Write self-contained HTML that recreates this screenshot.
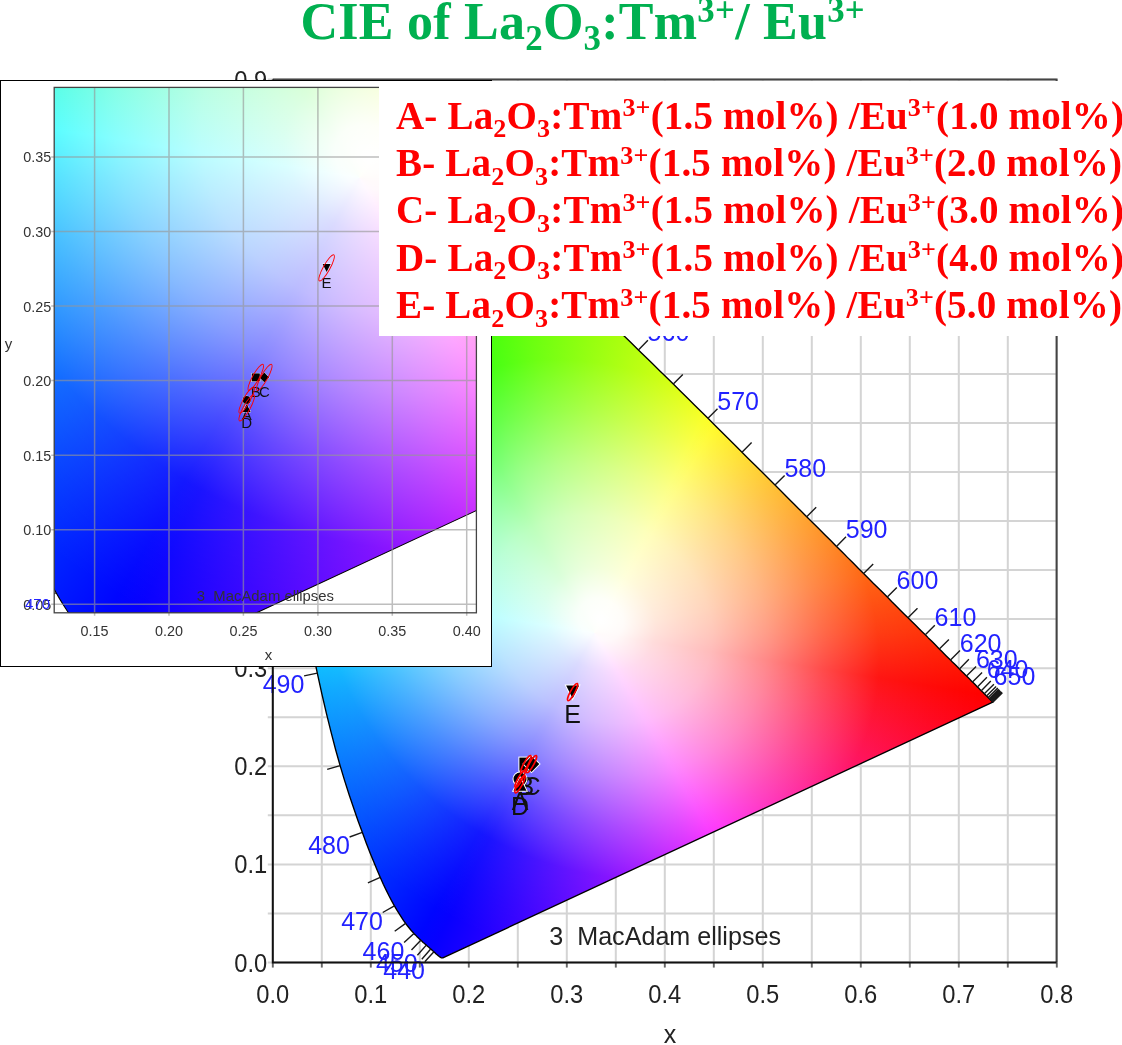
<!DOCTYPE html>
<html><head><meta charset="utf-8"><title>CIE of La2O3:Tm3+/Eu3+</title>
<style>
html,body{margin:0;padding:0;background:#fff}
body{width:1122px;height:1045px;position:relative;overflow:hidden}
.ly{position:absolute;left:0;top:0;box-sizing:content-box}
.t{position:absolute;left:300.5px;top:-8.4px;font:bold 52px/60px 'Liberation Serif',serif;color:#00b050;white-space:nowrap;letter-spacing:0.25px}
.lg{position:absolute;left:396px;top:91.5px;font:bold 39px/47.35px 'Liberation Serif',serif;color:#f00;white-space:nowrap;letter-spacing:0.18px}
.ll{height:47.35px}
sub,sup{font-size:67%;line-height:0;position:relative;vertical-align:baseline}
sub{top:0.34em}
sup{top:-0.47em}
</style></head><body>
<svg width="1122" height="1045" viewBox="0 0 1122 1045" class="ly">
<path d="M272.8 79.6V967.5M321.8 79.6V967.5M370.8 79.6V967.5M419.8 79.6V967.5M468.8 79.6V967.5M517.8 79.6V967.5M566.8 79.6V967.5M615.8 79.6V967.5M664.8 79.6V967.5M713.8 79.6V967.5M762.8 79.6V967.5M811.8 79.6V967.5M860.8 79.6V967.5M909.8 79.6V967.5M958.8 79.6V967.5M1007.8 79.6V967.5M1056.8 79.6V967.5M267.8 962.5H1056.6M267.8 913.5H1056.6M267.8 864.4H1056.6M267.8 815.3H1056.6M267.8 766.3H1056.6M267.8 717.2H1056.6M267.8 668.2H1056.6M267.8 619.1H1056.6M267.8 570.1H1056.6M267.8 521H1056.6M267.8 472H1056.6M267.8 422.9H1056.6M267.8 373.9H1056.6M267.8 324.9H1056.6M267.8 275.8H1056.6M267.8 226.8H1056.6M267.8 177.7H1056.6M267.8 128.6H1056.6M267.8 79.6H1056.6" stroke="#d4d4d4" stroke-width="2" fill="none"/>
</svg>
<div class="ly" style="width:1122px;height:1045px;overflow:hidden;clip-path:path('M443.4 957.6 443.4 957.6 443.4 957.6 443.4 957.6 443.4 957.6 443.3 957.6 443.3 957.6 443.2 957.6 443.2 957.7 443.2 957.7 443.1 957.7 443.1 957.7 443.1 957.7 443 957.7 443 957.7 442.9 957.7 442.9 957.7 442.8 957.7 442.8 957.8 442.7 957.8 442.6 957.8 442.6 957.8 442.5 957.8 442.5 957.8 442.4 957.8 442.3 957.8 442.3 957.8 442.2 957.8 442.1 957.8 442 957.8 441.9 957.8 441.9 957.8 441.8 957.8 441.7 957.8 441.6 957.8 441.5 957.8 441.3 957.8 441.2 957.7 441.1 957.7 440.9 957.6 440.8 957.5 440.6 957.4 440.4 957.3 440.2 957.1 439.9 957 439.7 956.8 439.4 956.6 439.2 956.4 438.9 956.2 438.6 956 438.3 955.7 438 955.4 437.6 955.1 437.2 954.8 436.8 954.4 436.4 954.1 435.9 953.7 435.4 953.2 435 952.8 434.4 952.3 433.9 951.8 433.3 951.3 432.7 950.8 432.1 950.2 431.4 949.6 430.7 949 429.9 948.3 429.1 947.5 428.2 946.8 427.2 946 426.3 945.1 425.3 944.3 424.2 943.3 423.1 942.4 422 941.3 420.8 940.2 419.5 939 418.2 937.7 416.8 936.4 415.4 934.9 413.9 933.4 412.4 931.7 410.8 930 409.2 928 407.4 925.8 405.6 923.4 403.6 920.6 401.5 917.4 399.3 913.9 396.9 910.1 394.4 905.8 391.8 901.1 389.1 896 386.3 890.4 383.3 884.2 380.2 877.3 377 869.8 373.6 861.6 370 852.7 366.2 842.9 362.3 832.3 358.1 820.9 353.8 808.5 349.3 795.2 344.7 780.9 340.1 765.6 335.5 749.2 331 731.8 326.4 713.3 321.8 693.7 317.3 673.1 312.8 651.5 308.3 629 304 605.8 299.8 581.9 295.8 557.6 292.2 533 288.8 508.2 285.8 483.4 283.1 458.7 280.8 434.3 279 410.3 277.7 386.9 276.8 363.9 276.4 341.7 276.6 320.1 277.4 299.4 278.7 279.6 280.7 260.7 283.2 243 286.4 226.6 290.2 211.4 294.6 197.7 299.6 185.5 305 174.9 310.9 165.9 317.2 158.6 323.9 153 330.9 148.8 338.2 146 345.6 144.5 353.2 144.3 361 145 368.8 146.7 376.7 149 384.7 152 392.7 155.4 400.7 159.1 408.7 163.2 416.6 167.5 424.4 171.9 432.1 176.5 439.7 181.1 447.1 185.9 454.5 190.8 461.8 195.8 469.1 200.9 476.3 206.1 483.5 211.5 490.7 216.9 497.8 222.5 504.9 228.2 512 234 519.1 239.9 526.2 245.9 533.3 252 540.3 258.1 547.4 264.3 554.4 270.6 561.4 276.9 568.4 283.4 575.4 289.8 582.4 296.3 589.3 302.9 596.3 309.5 603.4 316.1 610.4 322.8 617.4 329.5 624.4 336.3 631.4 343.1 638.4 349.9 645.4 356.7 652.4 363.5 659.4 370.4 666.4 377.2 673.3 384.1 680.3 391 687.2 397.8 694.2 404.7 701.1 411.5 708 418.3 714.9 425.2 721.7 432 728.5 438.7 735.3 445.5 742 452.2 748.7 458.9 755.4 465.5 762 472.1 768.5 478.6 775 485.1 781.5 491.6 787.9 498 794.2 504.3 800.5 510.6 806.7 516.7 812.8 522.8 818.9 528.8 824.8 534.8 830.7 540.6 836.5 546.4 842.2 552 847.7 557.6 853.2 563.1 858.5 568.4 863.6 573.5 868.6 578.5 873.5 583.4 878.2 588 882.8 592.6 887.3 597.1 891.6 601.5 895.9 605.7 900.1 609.9 904.1 613.9 908 617.8 911.8 621.5 915.4 625 918.8 628.4 922.1 631.7 925.3 634.8 928.3 637.9 931.3 640.8 934.1 643.6 936.7 646.3 939.3 648.9 941.7 651.3 944.1 653.7 946.3 655.9 948.4 658 950.5 660.1 952.4 662 954.3 663.8 956.1 665.6 957.8 667.3 959.4 668.9 960.9 670.4 962.4 671.9 963.8 673.3 965.2 674.7 966.5 676 967.8 677.3 969.1 678.6 970.3 679.8 971.4 680.9 972.5 682 973.6 683.1 974.6 684.1 975.6 685.1 976.5 686 977.4 686.9 978.3 687.8 979.1 688.6 979.9 689.4 980.6 690.1 981.3 690.8 982 691.4 982.6 692 983.2 692.6 983.8 693.2 984.3 693.7 984.8 694.2 985.3 694.7 985.7 695.1 986.1 695.6 986.5 696 986.9 696.3 987.3 696.7 987.6 697 987.9 697.3 988.2 697.6 988.5 697.9 988.7 698.1 988.9 698.3 989.1 698.5 989.3 698.7 989.5 698.9 989.7 699.1 989.8 699.3 990 699.4 990.2 699.6 990.3 699.7 990.4 699.9 990.6 700 990.7 700.1 990.8 700.3 991 700.4 991.1 700.6 991.3 700.7 991.4 700.8 991.5 701 991.7 701.1 991.8 701.2 991.9 701.3 992 701.5 992.1 701.6 992.2 701.6 992.3 701.7 992.4 701.8 992.5 701.9 992.5 701.9 992.6 702 992.6 702 992.6 702.1 992.7 702.1 992.7 702.1 992.7 702.2 992.8 702.2 992.8 702.2 992.8 702.2 992.8 702.2Z')"><div style="position:absolute;left:0;top:0;width:100%;height:100%;background:conic-gradient(from 0deg at 594.4px 632.9px,#92ff00 0deg,#f8ff00 27deg,#fffa00 30deg,#ffb000 51deg,#ff5a00 78deg,#ff2c00 90deg,#ff0200 99deg,#ff00b0 135deg,#ff00f4 147deg,#f800ff 150deg,#d500ff 156deg,#9d00ff 168deg,#0700ff 207deg,#0005ff 210deg,#004fff 231deg,#00a5ff 258deg,#00d3ff 270deg,#00fdff 279deg,#00ff4f 315deg,#00ff0b 327deg,#07ff00 330deg,#2aff00 336deg,#62ff00 348deg,#92ff00 360deg)"></div><div style="position:absolute;left:177.7px;top:196.7px;width:844.9px;height:844.9px;transform:rotate(-56.9deg);background:radial-gradient(ellipse 352.8px 420.4px at 50% 50%,rgba(255,255,255,1.000) 0.0%,rgba(255,255,255,0.975) 5.6%,rgba(255,255,255,0.858) 13.9%,rgba(255,255,255,0.735) 27.8%,rgba(255,255,255,0.531) 41.7%,rgba(255,255,255,0.289) 55.6%,rgba(255,255,255,0.078) 69.4%,rgba(255,255,255,0.030) 83.3%,rgba(255,255,255,0.000) 94.4%)"></div></div>
<svg width="1122" height="1045" viewBox="0 0 1122 1045" class="ly">
<path d="M443.4 957.6 443.4 957.6 443.4 957.6 443.4 957.6 443.4 957.6 443.3 957.6 443.3 957.6 443.2 957.6 443.2 957.7 443.2 957.7 443.1 957.7 443.1 957.7 443.1 957.7 443 957.7 443 957.7 442.9 957.7 442.9 957.7 442.8 957.7 442.8 957.8 442.7 957.8 442.6 957.8 442.6 957.8 442.5 957.8 442.5 957.8 442.4 957.8 442.3 957.8 442.3 957.8 442.2 957.8 442.1 957.8 442 957.8 441.9 957.8 441.9 957.8 441.8 957.8 441.7 957.8 441.6 957.8 441.5 957.8 441.3 957.8 441.2 957.7 441.1 957.7 440.9 957.6 440.8 957.5 440.6 957.4 440.4 957.3 440.2 957.1 439.9 957 439.7 956.8 439.4 956.6 439.2 956.4 438.9 956.2 438.6 956 438.3 955.7 438 955.4 437.6 955.1 437.2 954.8 436.8 954.4 436.4 954.1 435.9 953.7 435.4 953.2 435 952.8 434.4 952.3 433.9 951.8 433.3 951.3 432.7 950.8 432.1 950.2 431.4 949.6 430.7 949 429.9 948.3 429.1 947.5 428.2 946.8 427.2 946 426.3 945.1 425.3 944.3 424.2 943.3 423.1 942.4 422 941.3 420.8 940.2 419.5 939 418.2 937.7 416.8 936.4 415.4 934.9 413.9 933.4 412.4 931.7 410.8 930 409.2 928 407.4 925.8 405.6 923.4 403.6 920.6 401.5 917.4 399.3 913.9 396.9 910.1 394.4 905.8 391.8 901.1 389.1 896 386.3 890.4 383.3 884.2 380.2 877.3 377 869.8 373.6 861.6 370 852.7 366.2 842.9 362.3 832.3 358.1 820.9 353.8 808.5 349.3 795.2 344.7 780.9 340.1 765.6 335.5 749.2 331 731.8 326.4 713.3 321.8 693.7 317.3 673.1 312.8 651.5 308.3 629 304 605.8 299.8 581.9 295.8 557.6 292.2 533 288.8 508.2 285.8 483.4 283.1 458.7 280.8 434.3 279 410.3 277.7 386.9 276.8 363.9 276.4 341.7 276.6 320.1 277.4 299.4 278.7 279.6 280.7 260.7 283.2 243 286.4 226.6 290.2 211.4 294.6 197.7 299.6 185.5 305 174.9 310.9 165.9 317.2 158.6 323.9 153 330.9 148.8 338.2 146 345.6 144.5 353.2 144.3 361 145 368.8 146.7 376.7 149 384.7 152 392.7 155.4 400.7 159.1 408.7 163.2 416.6 167.5 424.4 171.9 432.1 176.5 439.7 181.1 447.1 185.9 454.5 190.8 461.8 195.8 469.1 200.9 476.3 206.1 483.5 211.5 490.7 216.9 497.8 222.5 504.9 228.2 512 234 519.1 239.9 526.2 245.9 533.3 252 540.3 258.1 547.4 264.3 554.4 270.6 561.4 276.9 568.4 283.4 575.4 289.8 582.4 296.3 589.3 302.9 596.3 309.5 603.4 316.1 610.4 322.8 617.4 329.5 624.4 336.3 631.4 343.1 638.4 349.9 645.4 356.7 652.4 363.5 659.4 370.4 666.4 377.2 673.3 384.1 680.3 391 687.2 397.8 694.2 404.7 701.1 411.5 708 418.3 714.9 425.2 721.7 432 728.5 438.7 735.3 445.5 742 452.2 748.7 458.9 755.4 465.5 762 472.1 768.5 478.6 775 485.1 781.5 491.6 787.9 498 794.2 504.3 800.5 510.6 806.7 516.7 812.8 522.8 818.9 528.8 824.8 534.8 830.7 540.6 836.5 546.4 842.2 552 847.7 557.6 853.2 563.1 858.5 568.4 863.6 573.5 868.6 578.5 873.5 583.4 878.2 588 882.8 592.6 887.3 597.1 891.6 601.5 895.9 605.7 900.1 609.9 904.1 613.9 908 617.8 911.8 621.5 915.4 625 918.8 628.4 922.1 631.7 925.3 634.8 928.3 637.9 931.3 640.8 934.1 643.6 936.7 646.3 939.3 648.9 941.7 651.3 944.1 653.7 946.3 655.9 948.4 658 950.5 660.1 952.4 662 954.3 663.8 956.1 665.6 957.8 667.3 959.4 668.9 960.9 670.4 962.4 671.9 963.8 673.3 965.2 674.7 966.5 676 967.8 677.3 969.1 678.6 970.3 679.8 971.4 680.9 972.5 682 973.6 683.1 974.6 684.1 975.6 685.1 976.5 686 977.4 686.9 978.3 687.8 979.1 688.6 979.9 689.4 980.6 690.1 981.3 690.8 982 691.4 982.6 692 983.2 692.6 983.8 693.2 984.3 693.7 984.8 694.2 985.3 694.7 985.7 695.1 986.1 695.6 986.5 696 986.9 696.3 987.3 696.7 987.6 697 987.9 697.3 988.2 697.6 988.5 697.9 988.7 698.1 988.9 698.3 989.1 698.5 989.3 698.7 989.5 698.9 989.7 699.1 989.8 699.3 990 699.4 990.2 699.6 990.3 699.7 990.4 699.9 990.6 700 990.7 700.1 990.8 700.3 991 700.4 991.1 700.6 991.3 700.7 991.4 700.8 991.5 701 991.7 701.1 991.8 701.2 991.9 701.3 992 701.5 992.1 701.6 992.2 701.6 992.3 701.7 992.4 701.8 992.5 701.9 992.5 701.9 992.6 702 992.6 702 992.6 702.1 992.7 702.1 992.7 702.1 992.7 702.2 992.8 702.2 992.8 702.2 992.8 702.2 992.8 702.2Z" fill="none" stroke="#000" stroke-width="1.35" stroke-linejoin="round"/>
<path d="M433.9 951.8L424.8 961.8M430.7 949L421.8 959.2M426.3 945.1L417.4 955.3M420.8 940.2L411.5 950.1M413.9 933.4L404.1 942.6M405.6 923.4L394.7 931.3M394.4 905.8L382.7 912.5M380.2 877.3L367.9 882.8M362.3 832.3L349.6 837M340.1 765.6L327.2 769.4M317.3 673.1L304.1 675.9M295.8 557.6L282.5 559.7M280.8 434.3L267.4 435.5M276.6 320.1L263.1 319.8M286.4 226.6L273.2 223.6M310.9 165.9L300.1 157.8M345.6 144.5L344.1 131.1M384.7 152L389.7 139.5M424.4 171.9L431.2 160.2M461.8 195.8L469.5 184.7M497.8 222.5L506.2 211.9M533.3 252L542.1 241.8M568.4 283.4L577.5 273.4M603.4 316.1L612.7 306.3M638.4 349.9L647.9 340.2M673.3 384.1L682.8 374.5M708 418.3L717.5 408.7M742 452.2L751.6 442.6M775 485.1L784.6 475.6M806.7 516.7L816.2 507.2M836.5 546.4L846 536.8M863.6 573.5L873.2 564M887.3 597.1L896.8 587.5M908 617.8L917.5 608.2M925.3 634.8L934.8 625.3M939.3 648.9L948.9 639.4M950.5 660.1L960 650.5M959.4 668.9L968.9 659.3M966.5 676L976.1 666.5M972.5 682L982.1 672.5M977.4 686.9L986.9 677.3M981.3 690.8L990.8 681.1M984.3 693.7L993.9 684.2M986.5 696L996.1 686.4M988.2 697.6L997.8 688.1M989.3 698.7L998.8 689.2M990.2 699.6L999.7 690.1M990.8 700.3L1000.4 690.7M991.5 701L1001.1 691.4M992.1 701.6L1001.7 692M992.5 701.9L1002.1 692.4M992.7 702.1L1002.3 692.6M992.8 702.2L1002.4 692.7" stroke="#1a1a1a" stroke-width="1.4" fill="none"/>
<g font-family="'Liberation Sans', sans-serif" font-size="25" fill="#2222ff"><text x="425" y="978.8" text-anchor="end">440</text>
<text x="417.6" y="972.3" text-anchor="end">450</text>
<text x="404.3" y="959.6" text-anchor="end">460</text>
<text x="382.9" y="929.5" text-anchor="end">470</text>
<text x="349.9" y="854.1" text-anchor="end">480</text>
<text x="304.4" y="693.1" text-anchor="end">490</text>
<text x="267.7" y="452.6" text-anchor="end">500</text>
<text x="273.5" y="224.5" text-anchor="end">510</text>
<text x="344.1" y="132.2" text-anchor="end">520</text>
<text x="431" y="161.3" text-anchor="start">530</text>
<text x="506" y="213" text-anchor="start">540</text>
<text x="577.3" y="274.4" text-anchor="start">550</text>
<text x="647.6" y="341.2" text-anchor="start">560</text>
<text x="717.3" y="409.8" text-anchor="start">570</text>
<text x="784.4" y="476.6" text-anchor="start">580</text>
<text x="845.8" y="537.8" text-anchor="start">590</text>
<text x="896.6" y="588.5" text-anchor="start">600</text>
<text x="934.6" y="626.3" text-anchor="start">610</text>
<text x="959.8" y="651.5" text-anchor="start">620</text>
<text x="975.9" y="667.5" text-anchor="start">630</text>
<text x="986.7" y="678.3" text-anchor="start">640</text>
<text x="993.6" y="685.2" text-anchor="start">650</text></g>
<path d="M272.8 962.5v5M321.8 962.5v5M370.8 962.5v5M419.8 962.5v5M468.8 962.5v5M517.8 962.5v5M566.8 962.5v5M615.8 962.5v5M664.8 962.5v5M713.8 962.5v5M762.8 962.5v5M811.8 962.5v5M860.8 962.5v5M909.8 962.5v5M958.8 962.5v5M1007.8 962.5v5M1056.8 962.5v5" stroke="#666" stroke-width="1.8" fill="none"/>
<path d="M272.8 79.6H1056.6V962.5" stroke="#444" stroke-width="2" fill="none"/>
<path d="M272.8 79.6V962.5H1056.6" stroke="#111" stroke-width="2" fill="none"/>
<g font-family="'Liberation Sans', sans-serif" font-size="25" fill="#222"><text x="272.8" y="1003.3" text-anchor="middle" textLength="33" lengthAdjust="spacingAndGlyphs">0.0</text>
<text x="370.8" y="1003.3" text-anchor="middle" textLength="33" lengthAdjust="spacingAndGlyphs">0.1</text>
<text x="468.8" y="1003.3" text-anchor="middle" textLength="33" lengthAdjust="spacingAndGlyphs">0.2</text>
<text x="566.8" y="1003.3" text-anchor="middle" textLength="33" lengthAdjust="spacingAndGlyphs">0.3</text>
<text x="664.8" y="1003.3" text-anchor="middle" textLength="33" lengthAdjust="spacingAndGlyphs">0.4</text>
<text x="762.8" y="1003.3" text-anchor="middle" textLength="33" lengthAdjust="spacingAndGlyphs">0.5</text>
<text x="860.8" y="1003.3" text-anchor="middle" textLength="33" lengthAdjust="spacingAndGlyphs">0.6</text>
<text x="958.8" y="1003.3" text-anchor="middle" textLength="33" lengthAdjust="spacingAndGlyphs">0.7</text>
<text x="1056.8" y="1003.3" text-anchor="middle" textLength="33" lengthAdjust="spacingAndGlyphs">0.8</text>
<text x="267.3" y="971.5" text-anchor="end" textLength="33" lengthAdjust="spacingAndGlyphs">0.0</text>
<text x="267.3" y="873.4" text-anchor="end" textLength="33" lengthAdjust="spacingAndGlyphs">0.1</text>
<text x="267.3" y="775.3" text-anchor="end" textLength="33" lengthAdjust="spacingAndGlyphs">0.2</text>
<text x="267.3" y="677.2" text-anchor="end" textLength="33" lengthAdjust="spacingAndGlyphs">0.3</text>
<text x="267.3" y="579.1" text-anchor="end" textLength="33" lengthAdjust="spacingAndGlyphs">0.4</text>
<text x="267.3" y="481" text-anchor="end" textLength="33" lengthAdjust="spacingAndGlyphs">0.5</text>
<text x="267.3" y="382.9" text-anchor="end" textLength="33" lengthAdjust="spacingAndGlyphs">0.6</text>
<text x="267.3" y="284.8" text-anchor="end" textLength="33" lengthAdjust="spacingAndGlyphs">0.7</text>
<text x="267.3" y="186.7" text-anchor="end" textLength="33" lengthAdjust="spacingAndGlyphs">0.8</text>
<text x="267.3" y="88.6" text-anchor="end" textLength="33" lengthAdjust="spacingAndGlyphs">0.9</text>
<text x="670" y="1043" text-anchor="middle">x</text>
<text x="549.3" y="945.2" textLength="231.7" lengthAdjust="spacingAndGlyphs" xml:space="preserve">3  MacAdam ellipses</text></g>
<g font-family="'Liberation Sans', sans-serif" font-size="25" fill="#111" text-anchor="middle">
<text x="520" y="809.9">A</text>
<text x="525.9" y="794.9">B</text>
<text x="531.5" y="794.9">C</text>
<text x="520" y="815.1">D</text>
<text x="572.6" y="722.9">E</text>
</g>
<circle cx="520" cy="779.1" r="6.5" fill="#000" stroke="#fff" stroke-width="2" paint-order="stroke"/>
<rect x="519.4" y="757.6" width="13" height="13" fill="#000" stroke="#fff" stroke-width="2" paint-order="stroke"/>
<path d="M531.5 756.3L539.3 764.1L531.5 771.9L523.7 764.1Z" fill="#000" stroke="#fff" stroke-width="2" paint-order="stroke"/>
<path d="M520 777.8L526.5 790.8L513.5 790.8Z" fill="#000" stroke="#fff" stroke-width="2" paint-order="stroke"/>
<path d="M572.6 698.6L579.1 685.6L566.1 685.6Z" fill="#000" stroke="#fff" stroke-width="2" paint-order="stroke"/>
<ellipse cx="520" cy="779.1" rx="9.8" ry="2.2" transform="rotate(-61 520 779.1)" fill="none" stroke="#f00" stroke-width="1.6"/>
<ellipse cx="525.9" cy="764.1" rx="9.8" ry="2.2" transform="rotate(-61 525.9 764.1)" fill="none" stroke="#f00" stroke-width="1.6"/>
<ellipse cx="531.5" cy="764.1" rx="9.8" ry="2.2" transform="rotate(-61 531.5 764.1)" fill="none" stroke="#f00" stroke-width="1.6"/>
<ellipse cx="520" cy="784.3" rx="9.8" ry="2.2" transform="rotate(-61 520 784.3)" fill="none" stroke="#f00" stroke-width="1.6"/>
<ellipse cx="572.6" cy="692.1" rx="9.8" ry="2.2" transform="rotate(-61 572.6 692.1)" fill="none" stroke="#f00" stroke-width="1.6"/>
</svg>
<div class="ly" style="left:0;top:80px;width:490px;height:585px;background:#fff;border:1.6px solid #000"></div>
<div class="ly" style="left:54.2px;top:87.4px;width:422.2px;height:525.4px;overflow:hidden"><div style="position:absolute;left:0;top:0;width:422.2px;height:525.4px;overflow:hidden;clip-path:path('M76.3 584 76.3 584 76.2 583.9 76.2 583.9 76.2 584 76.1 584 76.1 584 76 584.1 75.9 584.1 75.9 584.1 75.8 584.1 75.8 584.1 75.7 584.1 75.7 584.1 75.6 584.1 75.5 584.1 75.4 584.2 75.4 584.2 75.3 584.2 75.2 584.3 75.1 584.3 75 584.3 74.9 584.3 74.8 584.3 74.7 584.3 74.6 584.3 74.5 584.3 74.4 584.3 74.3 584.3 74.2 584.3 74 584.3 73.9 584.3 73.8 584.3 73.6 584.3 73.5 584.3 73.3 584.3 73.1 584.3 72.9 584.2 72.7 584.1 72.5 584 72.3 583.8 72 583.7 71.7 583.5 71.3 583.3 71 583.1 70.6 582.8 70.2 582.5 69.9 582.2 69.4 581.9 69 581.6 68.5 581.2 68 580.7 67.4 580.3 66.8 579.8 66.2 579.2 65.6 578.6 64.9 578 64.2 577.4 63.4 576.7 62.6 575.9 61.8 575.2 61 574.4 60.1 573.6 59.1 572.8 58 571.8 56.9 570.9 55.7 569.8 54.4 568.7 53.1 567.6 51.7 566.3 50.2 565.1 48.7 563.7 47.1 562.3 45.5 560.9 43.7 559.3 41.9 557.6 40 555.8 38 553.8 35.9 551.7 33.7 549.5 31.5 547.2 29.2 544.7 26.8 542 24.3 539 21.6 535.7 18.8 532 15.8 527.7 12.6 522.9 9.2 517.6 5.6 511.7 1.9 505.3 -2.1 498.2 -6.2 490.4 -10.5 481.8 -15 472.4 -19.7 462 -24.7 450.6 -29.8 438.1 -35.2 424.5 -40.9 409.7 -47 393.6 -53.3 376.2 -59.9 357.4 -66.7 337.2 -73.6 315.5 -80.6 292.2 -87.6 267.3 -94.5 240.8 -101.5 212.6 -108.4 182.9 -115.3 151.6 -122.2 118.8 -128.9 84.6 -135.5 49.3 -141.9 13 -147.9 -23.9 -153.5 -61.3 -158.6 -99 -163.2 -136.7 -167.2 -174.2 -170.7 -211.3 -173.4 -247.8 -175.5 -283.5 -176.8 -318.3 -177.3 -352.1 -177.1 -384.9 -175.9 -416.4 -173.8 -446.6 -170.9 -475.2 -167 -502.1 -162.2 -527.1 -156.4 -550.1 -149.7 -570.9 -142.2 -589.4 -133.9 -605.6 -125 -619.2 -115.4 -630.3 -105.2 -639 -94.6 -645.3 -83.6 -649.5 -72.3 -651.7 -60.7 -652.2 -49 -651 -37 -648.5 -25 -644.9 -12.9 -640.4 -0.7 -635.3 11.4 -629.5 23.5 -623.4 35.5 -616.9 47.4 -610.1 59.1 -603.2 70.6 -596.2 81.9 -588.9 93.1 -581.5 104.3 -573.9 115.3 -566.1 126.3 -558.2 137.2 -550 148 -541.7 158.9 -533.2 169.7 -524.6 180.5 -515.7 191.3 -506.8 202 -497.7 212.8 -488.5 223.5 -479.1 234.1 -469.7 244.8 -460.1 255.4 -450.5 266 -440.8 276.7 -431 287.3 -421.1 297.9 -411.1 308.5 -401.1 319.2 -391 329.8 -380.8 340.5 -370.6 351.2 -360.3 361.8 -350 372.5 -339.7 383.1 -329.3 393.7 -318.9 404.3 -308.5 414.9 -298.1 425.4 -287.6 436 -277.2 446.6 -266.8 457.1 -256.4 467.7 -246 478.1 -235.6 488.6 -225.2 499 -214.9 509.3 -204.6 519.6 -194.4 529.8 -184.2 540 -174 550.1 -163.9 560.1 -153.9 570.1 -144 579.9 -134.1 589.7 -124.3 599.5 -114.6 609.1 -104.9 618.6 -95.4 628 -86.1 637.3 -76.8 646.5 -67.7 655.6 -58.7 664.5 -49.8 673.3 -41 681.9 -32.4 690.4 -23.9 698.6 -15.6 706.7 -7.6 714.5 0.3 722.1 7.8 729.4 15.2 736.6 22.3 743.6 29.3 750.4 36.1 757 42.7 763.5 49.2 769.9 55.5 776 61.6 781.9 67.5 787.6 73.1 793 78.5 798.3 83.7 803.3 88.7 808.1 93.5 812.7 98.1 817.2 102.5 821.4 106.8 825.5 110.9 829.4 114.8 833.1 118.5 836.7 122.1 840 125.5 843.3 128.7 846.4 131.8 849.3 134.7 852.2 137.5 854.9 140.2 857.4 142.7 859.9 145.2 862.3 147.5 864.5 149.8 866.7 152 868.8 154.1 870.8 156.1 872.7 158 874.6 159.9 876.4 161.7 878.2 163.5 879.9 165.2 881.5 166.8 883 168.4 884.5 169.8 885.9 171.3 887.3 172.6 888.6 173.9 889.9 175.1 891.1 176.3 892.2 177.4 893.3 178.4 894.3 179.4 895.2 180.4 896.1 181.3 896.9 182.1 897.7 182.9 898.5 183.7 899.2 184.4 899.9 185.1 900.5 185.7 901.1 186.3 901.7 186.9 902.3 187.5 902.8 188 903.2 188.5 903.7 188.9 904.1 189.3 904.4 189.6 904.7 189.9 905 190.2 905.3 190.5 905.6 190.8 905.9 191.1 906.1 191.4 906.4 191.6 906.6 191.9 906.9 192.1 907.1 192.3 907.3 192.5 907.5 192.7 907.7 192.9 907.9 193.1 908.1 193.3 908.3 193.5 908.5 193.7 908.7 193.9 908.9 194.1 909.1 194.3 909.3 194.5 909.5 194.7 909.6 194.8 909.8 195 909.9 195.1 910 195.2 910.1 195.3 910.2 195.4 910.3 195.5 910.4 195.6 910.4 195.6 910.5 195.7 910.5 195.7 910.6 195.8 910.6 195.8 910.6 195.8 910.6 195.9 910.7 195.9Z')"><div style="position:absolute;left:0;top:0;width:100%;height:100%;background:conic-gradient(from 0deg at 305.5px 90.6px,#92ff00 0deg,#f8ff00 27deg,#fffa00 30deg,#ffb000 51deg,#ff5a00 78deg,#ff2c00 90deg,#ff0200 99deg,#ff00b0 135deg,#ff00e1 144deg,#ff00f3 147deg,#f800ff 150deg,#c600ff 159deg,#9d00ff 168deg,#0700ff 207deg,#0005ff 210deg,#004fff 231deg,#00a5ff 258deg,#00d3ff 270deg,#00fdff 279deg,#00ff4f 315deg,#00ff1e 324deg,#00ff0c 327deg,#07ff00 330deg,#39ff00 339deg,#62ff00 348deg,#92ff00 360deg)"></div><div style="position:absolute;left:-326.7px;top:-571.4px;width:1282.0px;height:1282.0px;transform:rotate(-56.9deg);background:radial-gradient(ellipse 535.8px 639.0px at 50% 50%,rgba(255,255,255,1.000) 0.0%,rgba(255,255,255,0.975) 5.6%,rgba(255,255,255,0.858) 13.9%,rgba(255,255,255,0.735) 27.8%,rgba(255,255,255,0.531) 41.7%,rgba(255,255,255,0.289) 55.6%,rgba(255,255,255,0.078) 69.4%,rgba(255,255,255,0.030) 83.3%,rgba(255,255,255,0.000) 94.4%)"></div></div></div>
<svg width="1122" height="1045" viewBox="0 0 1122 1045" class="ly">
<defs><clipPath id="ci0"><rect x="54.2" y="87.4" width="422.2" height="525.4"/></clipPath></defs>
<g clip-path="url(#ci0)">
<path d="M130.5 671.4 130.5 671.4 130.4 671.3 130.4 671.3 130.4 671.4 130.3 671.4 130.3 671.4 130.2 671.5 130.1 671.5 130.1 671.5 130 671.5 130 671.5 129.9 671.5 129.9 671.5 129.8 671.5 129.7 671.5 129.6 671.6 129.6 671.6 129.5 671.6 129.4 671.7 129.3 671.7 129.2 671.7 129.1 671.7 129 671.7 128.9 671.7 128.8 671.7 128.7 671.7 128.6 671.7 128.5 671.7 128.4 671.7 128.2 671.7 128.1 671.7 128 671.7 127.8 671.7 127.7 671.7 127.5 671.7 127.3 671.7 127.1 671.6 126.9 671.5 126.7 671.4 126.5 671.2 126.2 671.1 125.9 670.9 125.5 670.7 125.2 670.5 124.8 670.2 124.4 669.9 124.1 669.6 123.6 669.3 123.2 669 122.7 668.6 122.2 668.1 121.6 667.7 121 667.2 120.4 666.6 119.8 666 119.1 665.4 118.4 664.8 117.6 664.1 116.8 663.3 116 662.6 115.2 661.8 114.3 661 113.3 660.2 112.2 659.2 111.1 658.3 109.9 657.2 108.6 656.1 107.3 655 105.9 653.7 104.4 652.5 102.9 651.1 101.3 649.7 99.7 648.3 97.9 646.7 96.1 645 94.2 643.2 92.2 641.2 90.1 639.1 87.9 636.9 85.7 634.6 83.4 632.1 81 629.4 78.5 626.4 75.8 623.1 73 619.4 70 615.1 66.8 610.3 63.4 605 59.8 599.1 56.1 592.7 52.1 585.6 48 577.8 43.7 569.2 39.2 559.8 34.5 549.4 29.5 538 24.4 525.5 19 511.9 13.3 497.1 7.2 481 0.9 463.6 -5.7 444.8 -12.5 424.6 -19.4 402.9 -26.4 379.6 -33.4 354.7 -40.3 328.2 -47.3 300 -54.2 270.3 -61.1 239 -68 206.2 -74.7 172 -81.3 136.7 -87.7 100.4 -93.7 63.5 -99.3 26.1 -104.4 -11.6 -109 -49.3 -113 -86.8 -116.5 -123.9 -119.2 -160.4 -121.3 -196.1 -122.6 -230.9 -123.1 -264.7 -122.9 -297.5 -121.7 -329 -119.6 -359.2 -116.7 -387.8 -112.8 -414.7 -108 -439.7 -102.2 -462.7 -95.5 -483.5 -88 -502 -79.7 -518.2 -70.8 -531.8 -61.2 -542.9 -51 -551.6 -40.4 -557.9 -29.4 -562.1 -18.1 -564.3 -6.5 -564.8 5.2 -563.6 17.2 -561.1 29.2 -557.5 41.3 -553 53.5 -547.9 65.6 -542.1 77.7 -536 89.7 -529.5 101.6 -522.7 113.3 -515.8 124.8 -508.8 136.1 -501.5 147.3 -494.1 158.5 -486.5 169.5 -478.7 180.5 -470.8 191.4 -462.6 202.2 -454.3 213.1 -445.8 223.9 -437.2 234.7 -428.3 245.5 -419.4 256.2 -410.3 267 -401.1 277.7 -391.7 288.3 -382.3 299 -372.7 309.6 -363.1 320.2 -353.4 330.9 -343.6 341.5 -333.7 352.1 -323.7 362.7 -313.7 373.4 -303.6 384 -293.4 394.7 -283.2 405.4 -272.9 416 -262.6 426.7 -252.3 437.3 -241.9 447.9 -231.5 458.5 -221.1 469.1 -210.7 479.6 -200.2 490.2 -189.8 500.8 -179.4 511.3 -169 521.9 -158.6 532.3 -148.2 542.8 -137.8 553.2 -127.5 563.5 -117.2 573.8 -107 584 -96.8 594.2 -86.6 604.3 -76.5 614.3 -66.5 624.3 -56.6 634.1 -46.7 643.9 -36.9 653.7 -27.2 663.3 -17.5 672.8 -8 682.2 1.3 691.5 10.6 700.7 19.7 709.8 28.7 718.7 37.6 727.5 46.4 736.1 55 744.6 63.5 752.8 71.8 760.9 79.8 768.7 87.7 776.3 95.2 783.6 102.6 790.8 109.7 797.8 116.7 804.6 123.5 811.2 130.1 817.7 136.6 824.1 142.9 830.2 149 836.1 154.9 841.8 160.5 847.2 165.9 852.5 171.1 857.5 176.1 862.3 180.9 866.9 185.5 871.4 189.9 875.6 194.2 879.7 198.3 883.6 202.2 887.3 205.9 890.9 209.5 894.2 212.9 897.5 216.1 900.6 219.2 903.5 222.1 906.4 224.9 909.1 227.6 911.6 230.1 914.1 232.6 916.5 234.9 918.7 237.2 920.9 239.4 923 241.5 925 243.5 926.9 245.4 928.8 247.3 930.6 249.1 932.4 250.9 934.1 252.6 935.7 254.2 937.2 255.8 938.7 257.2 940.1 258.7 941.5 260 942.8 261.3 944.1 262.5 945.3 263.7 946.4 264.8 947.5 265.8 948.5 266.8 949.4 267.8 950.3 268.7 951.1 269.5 951.9 270.3 952.7 271.1 953.4 271.8 954.1 272.5 954.7 273.1 955.3 273.7 955.9 274.3 956.5 274.9 957 275.4 957.4 275.9 957.9 276.3 958.3 276.7 958.6 277 958.9 277.3 959.2 277.6 959.5 277.9 959.8 278.2 960.1 278.5 960.3 278.8 960.6 279 960.8 279.3 961.1 279.5 961.3 279.7 961.5 279.9 961.7 280.1 961.9 280.3 962.1 280.5 962.3 280.7 962.5 280.9 962.7 281.1 962.9 281.3 963.1 281.5 963.3 281.7 963.5 281.9 963.7 282.1 963.8 282.2 964 282.4 964.1 282.5 964.2 282.6 964.3 282.7 964.4 282.8 964.5 282.9 964.6 283 964.6 283 964.7 283.1 964.7 283.1 964.8 283.2 964.8 283.2 964.8 283.2 964.8 283.3 964.9 283.3Z" fill="none" stroke="#000" stroke-width="1.1"/>
<path d="M56.1 592.7L48.2 597.1M34.5 549.4L26.2 553.1" stroke="#1a1a1a" stroke-width="1.2" fill="none"/>
</g>
<path d="M94.6 87.4V615.8M169 87.4V615.8M243.4 87.4V615.8M317.9 87.4V615.8M392.3 87.4V615.8M466.7 87.4V615.8M51.2 604.3H476.4M51.2 529.7H476.4M51.2 455.2H476.4M51.2 380.6H476.4M51.2 306.1H476.4M51.2 231.5H476.4M51.2 157H476.4" stroke="#969696" stroke-opacity="0.62" stroke-width="1.5" fill="none"/>
<rect x="54.2" y="87.4" width="422.2" height="525.4" fill="none" stroke="#444" stroke-width="1.3"/>
<g font-family="'Liberation Sans', sans-serif" font-size="15" fill="#111" text-anchor="middle">
<text x="246.7" y="420">A</text>
<text x="255.8" y="397.4">B</text>
<text x="264.3" y="397.4">C</text>
<text x="246.7" y="427.9">D</text>
<text x="326.6" y="287.9">E</text>
</g>
<circle cx="246.7" cy="400" r="4" fill="#000" stroke="#fff" stroke-width="0.9" paint-order="stroke"/>
<rect x="251.8" y="373.4" width="8" height="8" fill="#000" stroke="#fff" stroke-width="0.9" paint-order="stroke"/>
<path d="M264.3 372.6L269.1 377.4L264.3 382.2L259.5 377.4Z" fill="#000" stroke="#fff" stroke-width="0.9" paint-order="stroke"/>
<path d="M246.7 403.9L250.7 411.9L242.7 411.9Z" fill="#000" stroke="#fff" stroke-width="0.9" paint-order="stroke"/>
<path d="M326.6 271.9L330.6 263.9L322.6 263.9Z" fill="#000" stroke="#fff" stroke-width="0.9" paint-order="stroke"/>
<ellipse cx="246.7" cy="400" rx="14.9" ry="3.3" transform="rotate(-61 246.7 400)" fill="none" stroke="#f00" stroke-width="0.9"/>
<ellipse cx="255.8" cy="377.4" rx="14.9" ry="3.3" transform="rotate(-61 255.8 377.4)" fill="none" stroke="#f00" stroke-width="0.9"/>
<ellipse cx="264.3" cy="377.4" rx="14.9" ry="3.3" transform="rotate(-61 264.3 377.4)" fill="none" stroke="#f00" stroke-width="0.9"/>
<ellipse cx="246.7" cy="407.9" rx="14.9" ry="3.3" transform="rotate(-61 246.7 407.9)" fill="none" stroke="#f00" stroke-width="0.9"/>
<ellipse cx="326.6" cy="267.9" rx="14.9" ry="3.3" transform="rotate(-61 326.6 267.9)" fill="none" stroke="#f00" stroke-width="0.9"/>
<g font-family="'Liberation Sans', sans-serif" font-size="15" fill="#333"><text x="94.6" y="636" text-anchor="middle" textLength="28" lengthAdjust="spacingAndGlyphs">0.15</text>
<text x="169" y="636" text-anchor="middle" textLength="28" lengthAdjust="spacingAndGlyphs">0.20</text>
<text x="243.4" y="636" text-anchor="middle" textLength="28" lengthAdjust="spacingAndGlyphs">0.25</text>
<text x="317.9" y="636" text-anchor="middle" textLength="28" lengthAdjust="spacingAndGlyphs">0.30</text>
<text x="392.3" y="636" text-anchor="middle" textLength="28" lengthAdjust="spacingAndGlyphs">0.35</text>
<text x="466.7" y="636" text-anchor="middle" textLength="28" lengthAdjust="spacingAndGlyphs">0.40</text>
<text x="51.3" y="609.7" text-anchor="end" textLength="28" lengthAdjust="spacingAndGlyphs">0.05</text>
<text x="51.3" y="535.1" text-anchor="end" textLength="28" lengthAdjust="spacingAndGlyphs">0.10</text>
<text x="51.3" y="460.6" text-anchor="end" textLength="28" lengthAdjust="spacingAndGlyphs">0.15</text>
<text x="51.3" y="386" text-anchor="end" textLength="28" lengthAdjust="spacingAndGlyphs">0.20</text>
<text x="51.3" y="311.5" text-anchor="end" textLength="28" lengthAdjust="spacingAndGlyphs">0.25</text>
<text x="51.3" y="236.9" text-anchor="end" textLength="28" lengthAdjust="spacingAndGlyphs">0.30</text>
<text x="51.3" y="162.4" text-anchor="end" textLength="28" lengthAdjust="spacingAndGlyphs">0.35</text>
<text x="268.6" y="660.2" text-anchor="middle">x</text>
<text x="8.5" y="349" text-anchor="middle">y</text>
<text x="196.8" y="601.3" textLength="137.2" lengthAdjust="spacingAndGlyphs" xml:space="preserve">3  MacAdam ellipses</text></g>
<text x="50" y="609" text-anchor="end" font-family="'Liberation Sans', sans-serif" font-size="15" fill="#2222ff">470</text>
</svg>
<div class="ly" style="left:378.8px;top:81px;width:744px;height:255.3px;background:#fff"></div>
<div class="t">CIE of La<sub>2</sub>O<sub>3</sub>:Tm<sup>3+</sup>/ Eu<sup>3+</sup></div>
<div class="lg"><div class="ll">A- La<sub>2</sub>O<sub>3</sub>:Tm<sup>3+</sup>(1.5 mol%) /Eu<sup>3+</sup>(1.0 mol%)</div><div class="ll">B- La<sub>2</sub>O<sub>3</sub>:Tm<sup>3+</sup>(1.5 mol%) /Eu<sup>3+</sup>(2.0 mol%)</div><div class="ll">C- La<sub>2</sub>O<sub>3</sub>:Tm<sup>3+</sup>(1.5 mol%) /Eu<sup>3+</sup>(3.0 mol%)</div><div class="ll">D- La<sub>2</sub>O<sub>3</sub>:Tm<sup>3+</sup>(1.5 mol%) /Eu<sup>3+</sup>(4.0 mol%)</div><div class="ll">E- La<sub>2</sub>O<sub>3</sub>:Tm<sup>3+</sup>(1.5 mol%) /Eu<sup>3+</sup>(5.0 mol%)</div></div>
</body></html>
